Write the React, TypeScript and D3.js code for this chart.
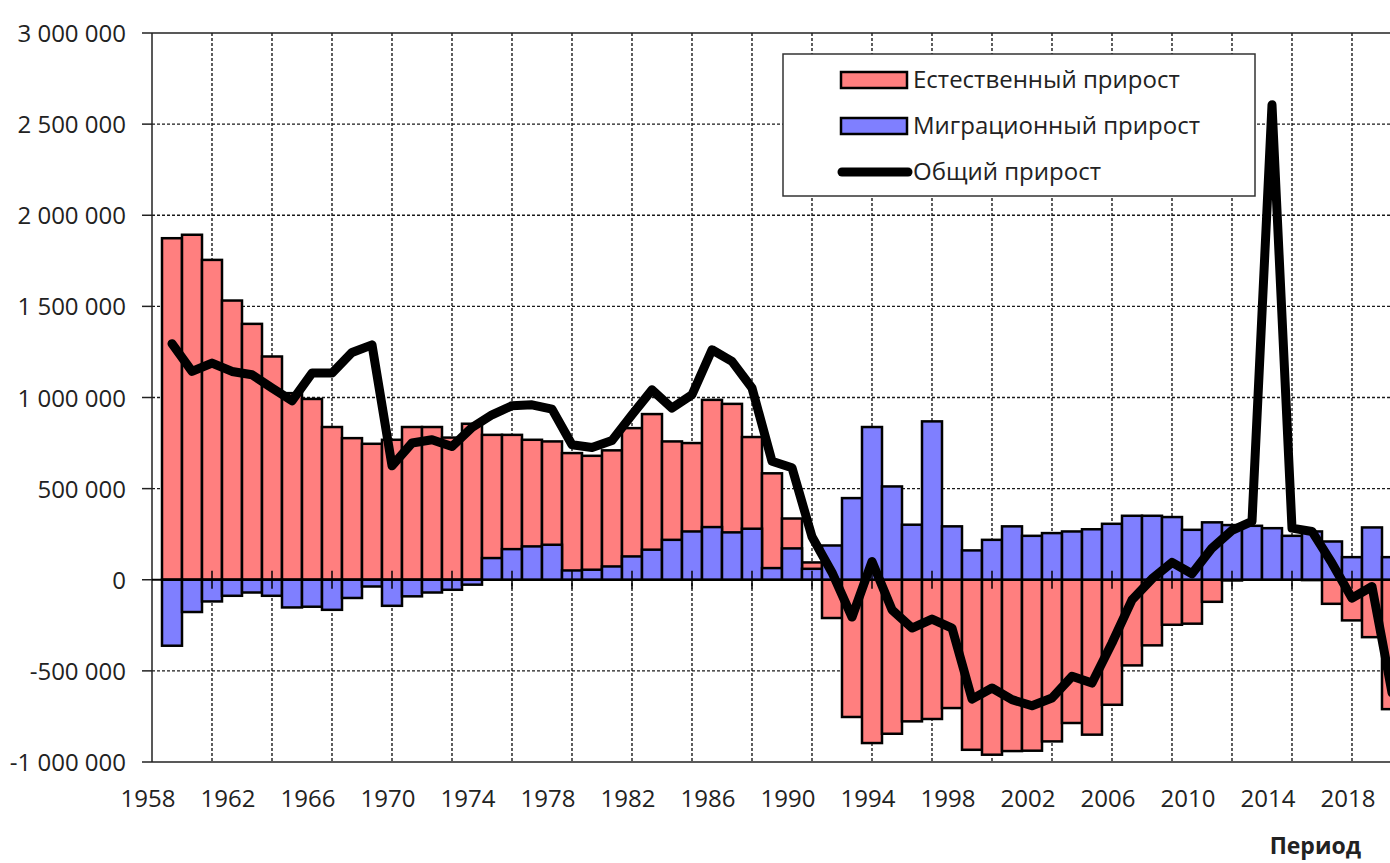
import React, { useEffect, useRef } from "react";
import * as d3 from "d3";

// values in thousands of people
const years = [
  1959, 1960, 1961, 1962, 1963, 1964, 1965, 1966, 1967, 1968, 1969, 1970, 1971, 1972, 1973, 1974,
  1975, 1976, 1977, 1978, 1979, 1980, 1981, 1982, 1983, 1984, 1985, 1986, 1987, 1988, 1989, 1990,
  1991, 1992, 1993, 1994, 1995, 1996, 1997, 1998, 1999, 2000, 2001, 2002, 2003, 2004, 2005, 2006,
  2007, 2008, 2009, 2010, 2011, 2012, 2013, 2014, 2015, 2016, 2017, 2018, 2019, 2020,
];
const natural = [
  1874, 1893, 1755, 1532, 1404, 1225, 1024, 992, 838, 777, 746, 768, 838, 838, 780, 856,
  795, 795, 768, 759, 695, 680, 710, 832, 909, 759, 750, 987, 965, 783, 584, 336,
  95, -210, -753, -896, -845, -777, -764, -704, -933, -960, -940, -938, -887, -786, -850, -686,
  -470, -360, -247, -241, -121, -4, 24, 33, 32, -2, -132, -223, -315, -710,
];
const migration = [
  -362, -177, -119, -88, -70, -88, -152, -148, -165, -100, -37, -143, -91, -70, -55, -27,
  119, 168, 183, 192, 51, 55, 73, 128, 165, 219, 265, 289, 260, 280, 64, 172,
  60, 188, 448, 838, 512, 302, 869, 293, 161, 219, 293, 241, 256, 265, 277, 307,
  351, 351, 344, 274, 315, 300, 296, 283, 241, 265, 210, 124, 287, 124,
];
const total = [
  1295, 1143, 1189, 1143, 1125, 1052, 982, 1134, 1134, 1247, 1289, 625, 750, 768, 731, 835,
  905, 955, 960, 936, 741, 726, 764, 905, 1042, 942, 1015, 1262, 1198, 1052, 650, 615,
  236, 40, -205, 100, -165, -265, -216, -265, -655, -594, -658, -691, -649, -530, -567, -347,
  -110, 5, 95, 33, 174, 271, 320, 2606, 283, 265, 91, -101, -37, -620,
];

const yTicks = [-1000000, -500000, 0, 500000, 1000000, 1500000, 2000000, 2500000, 3000000];
const xLabels = [1958, 1962, 1966, 1970, 1974, 1978, 1982, 1986, 1990, 1994, 1998, 2002, 2006, 2010, 2014, 2018];
const gridYears = [1961, 1964, 1967, 1970, 1973, 1976, 1979, 1982, 1985, 1988, 1991, 1994, 1997, 2000, 2003, 2006, 2009, 2012, 2015, 2018];
const legendLabels = ["Естественный прирост", "Миграционный прирост", "Общий прирост"];

const RED = "#ff7f7f";
const BLUE = "#7f7fff";
const FONT = "'Open Sans', sans-serif";

const fmt = (v: number) => (v < 0 ? "-" : "") + d3.format(",")(Math.abs(v)).replace(/,/g, " ");

const App = () => {
  const ref = useRef<SVGSVGElement>(null);

  useEffect(() => {
    const svg = d3.select(ref.current);
    svg.selectAll("*").remove();

    const left = 152;
    const right = 1390;
    const top = 33;
    const bottom = 762;

    const x = d3.scaleLinear().domain([1958, 2020]).range([left, left + 20 * 62]);
    const y = d3.scaleLinear().domain([-1000000, 3000000]).range([bottom, top]);
    const barW = 20;

    // horizontal grid
    svg
      .append("g")
      .selectAll("line")
      .data(yTicks.filter((t) => t !== 0 && t !== 3000000 && t !== -1000000))
      .join("line")
      .attr("x1", left)
      .attr("x2", right)
      .attr("y1", (d) => y(d))
      .attr("y2", (d) => y(d))
      .attr("stroke", "#1a1a1a")
      .attr("stroke-width", 1.4)
      .attr("stroke-dasharray", "3,2");

    // vertical grid
    svg
      .append("g")
      .selectAll("line")
      .data(gridYears)
      .join("line")
      .attr("x1", (d) => x(d))
      .attr("x2", (d) => x(d))
      .attr("y1", top)
      .attr("y2", bottom)
      .attr("stroke", "#1a1a1a")
      .attr("stroke-width", 1.4)
      .attr("stroke-dasharray", "3,2");

    // border top / bottom, left axis
    svg.append("line").attr("x1", left).attr("x2", right).attr("y1", top).attr("y2", top).attr("stroke", "#222").attr("stroke-width", 1.5);
    svg.append("line").attr("x1", left).attr("x2", right).attr("y1", bottom).attr("y2", bottom).attr("stroke", "#222").attr("stroke-width", 1.5);
    svg.append("line").attr("x1", left).attr("x2", left).attr("y1", top).attr("y2", bottom).attr("stroke", "#222").attr("stroke-width", 1.5);

    // y ticks and labels
    const yt = svg.append("g").selectAll("g").data(yTicks).join("g");
    yt.append("line")
      .attr("x1", left - 10)
      .attr("x2", left)
      .attr("y1", (d) => y(d))
      .attr("y2", (d) => y(d))
      .attr("stroke", "#222")
      .attr("stroke-width", 1.5);
    yt.append("text")
      .attr("x", 126)
      .attr("y", (d) => y(d) + 9)
      .attr("text-anchor", "end")
      .style("font-family", FONT)
      .style("font-size", "24px")
      .attr("fill", "#222")
      .text((d) => fmt(d));

    // x labels
    svg
      .append("g")
      .selectAll("text")
      .data(xLabels)
      .join("text")
      .attr("x", (d) => x(d) - 4)
      .attr("y", 807)
      .attr("text-anchor", "middle")
      .style("font-family", FONT)
      .style("font-size", "24px")
      .attr("fill", "#222")
      .text((d) => d);

    // bars: natural behind, migration in front
    const bars = (vals: number[], color: string) =>
      svg
        .append("g")
        .selectAll("rect")
        .data(vals)
        .join("rect")
        .attr("x", (d, i) => x(years[i]) - barW / 2)
        .attr("width", barW)
        .attr("y", (d) => y(Math.max(0, d * 1000)))
        .attr("height", (d) => Math.abs(y(d * 1000) - y(0)))
        .attr("fill", color)
        .attr("stroke", "#000")
        .attr("stroke-width", 2.5);
    bars(natural, RED);
    bars(migration, BLUE);

    // zero axis with crossing ticks
    svg.append("line").attr("x1", left).attr("x2", right).attr("y1", y(0)).attr("y2", y(0)).attr("stroke", "#000").attr("stroke-width", 2);
    svg
      .append("g")
      .selectAll("line")
      .data(gridYears)
      .join("line")
      .attr("x1", (d) => x(d))
      .attr("x2", (d) => x(d))
      .attr("y1", y(0) - 9)
      .attr("y2", y(0) + 9)
      .attr("stroke", "#000")
      .attr("stroke-width", 1.5);

    // total line
    const line = d3
      .line<number>()
      .x((d, i) => x(years[i]))
      .y((d) => y(d * 1000));
    svg
      .append("path")
      .datum(total)
      .attr("d", line)
      .attr("fill", "none")
      .attr("stroke", "#000")
      .attr("stroke-width", 9)
      .attr("stroke-linejoin", "round")
      .attr("stroke-linecap", "round");

    // legend
    const lg = svg.append("g");
    lg.append("rect")
      .attr("x", 783)
      .attr("y", 54)
      .attr("width", 472)
      .attr("height", 142)
      .attr("fill", "#fff")
      .attr("stroke", "#333")
      .attr("stroke-width", 1.5);
    const rows = [80, 126, 172];
    legendLabels.forEach((label, i) => {
      const cy = rows[i];
      if (i < 2) {
        lg.append("rect")
          .attr("x", 841)
          .attr("y", cy - 8)
          .attr("width", 66)
          .attr("height", 16)
          .attr("fill", i === 0 ? RED : BLUE)
          .attr("stroke", "#000")
          .attr("stroke-width", 2.5);
      } else {
        lg.append("line")
          .attr("x1", 842)
          .attr("x2", 908)
          .attr("y1", cy)
          .attr("y2", cy)
          .attr("stroke", "#000")
          .attr("stroke-width", 9)
          .attr("stroke-linecap", "round");
      }
      lg.append("text")
        .attr("x", 913)
        .attr("y", cy + 8)
        .style("font-family", FONT)
        .style("font-size", "24px")
        .attr("fill", "#222")
        .text(label);
    });

    // axis title
    svg
      .append("text")
      .attr("x", 1361)
      .attr("y", 854)
      .attr("text-anchor", "end")
      .style("font-family", FONT)
      .style("font-size", "23px")
      .style("font-weight", "bold")
      .attr("fill", "#222")
      .text("Период");
  }, []);

  return (
    <svg
      ref={ref}
      width={1390}
      height={863}
      style={{ position: "absolute", left: 0, top: 0, background: "#fff", display: "block" }}
    />
  );
};

export default App;
